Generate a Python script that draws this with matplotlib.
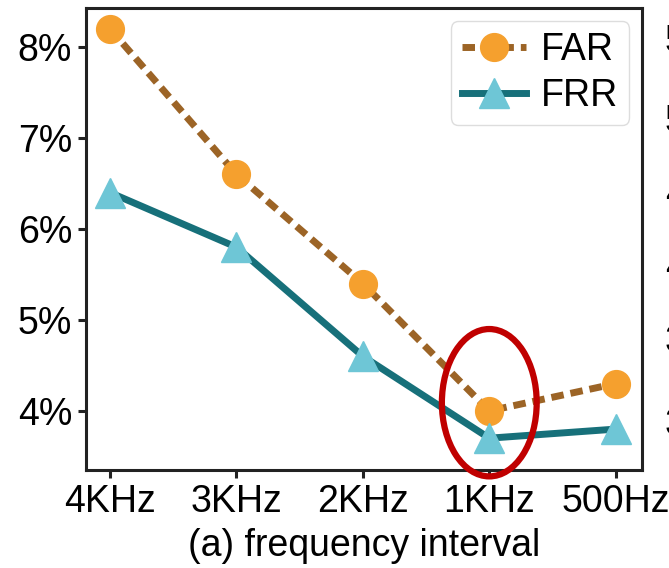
import matplotlib as mpl
import matplotlib.pyplot as plt
from matplotlib.patches import Ellipse
import numpy as np

mpl.rcParams['font.family'] = 'Liberation Sans'
mpl.rcParams.update({'font.size': 27})

freq_labels = ['4KHz', '3KHz', '2KHz', '1KHz', '500Hz']
far_vals = [8.2, 6.6, 5.4, 4.0, 4.3]
frr_vals = [6.4, 5.8, 4.6, 3.7, 3.8]
y_ticks = [4, 5, 6, 7, 8]
side_labels = ['5', '5', '4', '4', '3', '3']

def main():
    fig = plt.figure(figsize=(6.69, 5.68), dpi=100)
    ax = fig.add_axes([0.1286, 0.1725, 0.8314, 0.8135])
    x_pos = np.arange(len(freq_labels))

    ax.plot(x_pos, far_vals, color='#9C6426', linewidth=5, linestyle=(0, (1.8, 1.0)),
            marker='o', markersize=20, markerfacecolor='#F5A02E', markeredgecolor='#F5A02E',
            label='FAR', zorder=3)
    ax.plot(x_pos, frr_vals, color='#17707A', linewidth=5,
            marker='^', markersize=22, markerfacecolor='#6EC6D6', markeredgecolor='#6EC6D6',
            label='FRR', zorder=4)

    # highlight the 1KHz point
    ell = Ellipse((3.0, 4.09), width=0.75, height=1.62, fill=False,
                  edgecolor='#C00000', linewidth=4.5, zorder=5, clip_on=False)
    ax.add_patch(ell)

    ax.set_xlim(-0.19, 4.21)
    ax.set_ylim(3.35, 8.43)
    ax.set_xticks(x_pos)
    ax.set_xticklabels(freq_labels)
    ax.set_yticks(y_ticks)
    ax.set_yticklabels([str(v) + '%' for v in y_ticks])
    ax.set_xlabel('(a) frequency interval', labelpad=6)

    for sp in ax.spines.values():
        sp.set_linewidth(2.2)
        sp.set_color('#222222')
    ax.tick_params(width=2.2, length=6, color='#222222', pad=4)

    ax.legend(loc='upper right', fontsize=27, handlelength=1.7, handletextpad=0.4,
              borderpad=0.3, labelspacing=0.25, borderaxespad=0.35,
              edgecolor='#DDDDDD', framealpha=1.0)

    # tick labels of the neighbouring panel, cut off at the right edge
    for lab, yp in zip(side_labels, [42, 122, 195, 268, 342, 425]):
        fig.text(665 / 669, 1 - yp / 568, lab, fontsize=27, ha='left', va='center')

    fig.savefig('out.png', dpi=100)

if __name__ == '__main__':
    main()
